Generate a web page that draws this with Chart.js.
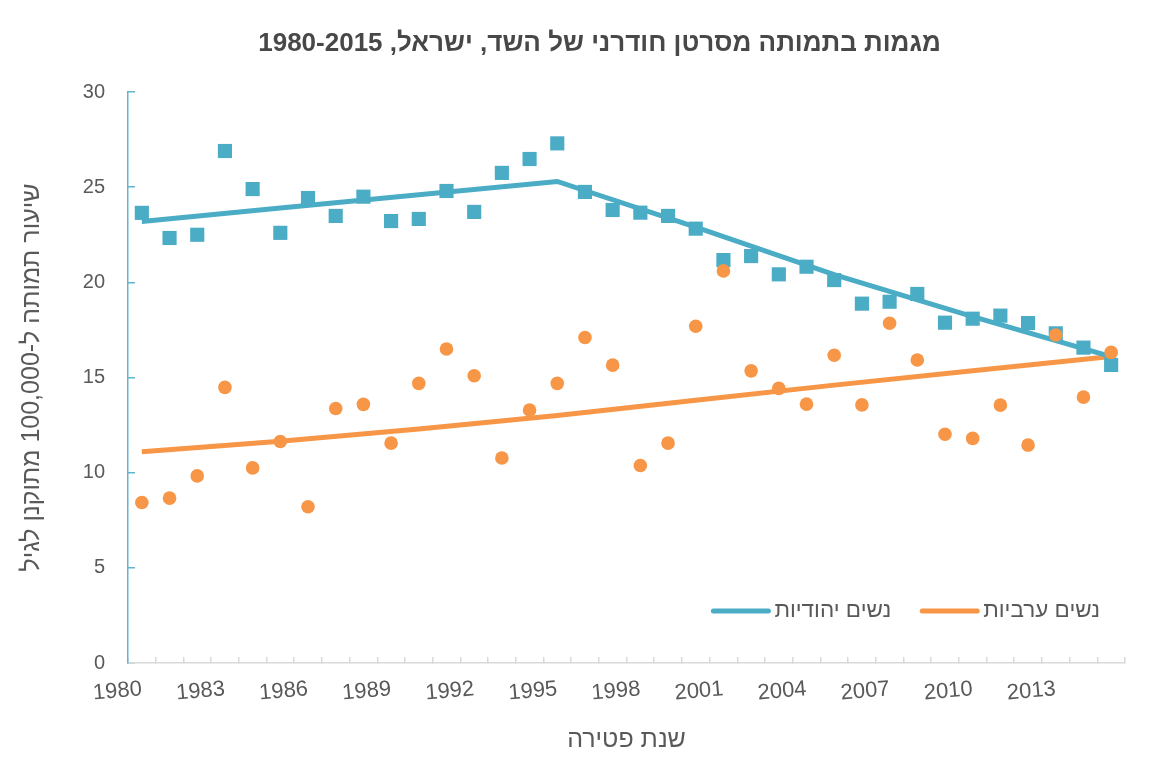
<!DOCTYPE html>
<html lang="he">
<head>
<meta charset="utf-8">
<script src="https://cdn.jsdelivr.net/npm/chart.js@4.4.1/dist/chart.umd.min.js"></script>
<style>
  html, body { margin: 0; padding: 0; background: #fff; }
</style>
</head>
<body>
<canvas id="chart" dir="rtl" width="1158" height="760"></canvas>
<script>
// data
const years = [
  "1980", "1981", "1982", "1983", "1984", "1985", "1986", "1987", "1988", "1989",
  "1990", "1991", "1992", "1993", "1994", "1995", "1996", "1997", "1998", "1999",
  "2000", "2001", "2002", "2003", "2004", "2005", "2006", "2007", "2008", "2009",
  "2010", "2011", "2012", "2013", "2014", "2015",
];
const xTickLabels = ["1980", "1983", "1986", "1989", "1992", "1995", "1998", "2001", "2004", "2007", "2010", "2013"];

const jewishRate = [
  23.65, 22.33, 22.5, 26.9, 24.9, 22.6, 24.43, 23.49, 24.5, 23.22,
  23.33, 24.8, 23.7, 25.75, 26.48, 27.3, 24.75, 23.8, 23.66, 23.49,
  22.82, 21.17, 21.38, 20.42, 20.82, 20.12, 18.88, 18.98, 19.39, 17.88,
  18.09, 18.25, 17.86, 17.32, 16.57, 15.66,
];
const arabRate = [
  8.43, 8.66, 9.83, 14.48, 10.25, 11.64, 8.21, 13.37, 13.59, 11.55,
  14.69, 16.5, 15.09, 10.77, 13.29, 14.69, 17.1, 15.65, 10.38, 11.55,
  17.69, 20.6, 15.35, 14.43, 13.6, 16.17, 13.56, 17.85, 15.92, 12.02,
  11.8, 13.55, 11.45, 17.23, 13.97, 16.32,
];

// joinpoint trend lines, read at every fifth year
const jewishTrend = [
  23.2, null, null, null, null, 23.9, null, null, null, null,
  24.6, null, null, null, null, 25.3, null, null, null, null,
  22.9, null, null, null, null, 20.4, null, null, null, null,
  18.2, null, null, null, null, 16.1,
];
const arabTrend = [
  11.1, null, null, null, null, 11.65, null, null, null, null,
  12.3, null, null, null, null, 13.0, null, null, null, null,
  13.8, null, null, null, null, 14.6, null, null, null, null,
  15.35, null, null, null, null, 16.1,
];

const seriesNames = ["נשים יהודיות", "נשים ערביות"];
const chartTitle = "מגמות בתמותה מסרטן חודרני של השד, ישראל, 1980-2015";

const BLUE = "#4BACC6";
const ORANGE = "#F79646";
const TEXT = "#595959";
const FONT = '"Liberation Sans", Arial, sans-serif';

Chart.defaults.font.family = FONT;

// title is a little right of centre in the original, so draw it by hand
const offsetTitle = {
  id: "offsetTitle",
  afterDraw(chart) {
    const ctx = chart.ctx;
    const area = chart.chartArea;
    ctx.save();
    ctx.font = "bold 26px " + FONT;
    ctx.fillStyle = "#484848";
    ctx.textAlign = "center";
    ctx.textBaseline = "middle";
    ctx.fillText(chartTitle, (area.left + area.right) / 2 - 27, 44);
    ctx.restore();
  },
};

// legend sits inside the plot, bottom right, like the Excel original
const insideLegend = {
  id: "insideLegend",
  afterDraw(chart) {
    const ctx = chart.ctx;
    const area = chart.chartArea;
    const colors = [BLUE, ORANGE];
    ctx.save();
    ctx.font = "22.5px " + FONT;
    ctx.fillStyle = TEXT;
    ctx.textAlign = "right";
    ctx.textBaseline = "middle";
    ctx.lineCap = "round";
    ctx.lineWidth = 5;
    const y = area.bottom - 52;
    let x = area.right - 25;
    for (let i = seriesNames.length - 1; i >= 0; i--) {
      const w = ctx.measureText(seriesNames[i]).width;
      ctx.fillText(seriesNames[i], x, y);
      const lineEnd = x - w - 6;
      ctx.strokeStyle = colors[i];
      ctx.beginPath();
      ctx.moveTo(lineEnd - 55, y);
      ctx.lineTo(lineEnd, y);
      ctx.stroke();
      x = lineEnd - 55 - 31;
    }
    ctx.restore();
  },
};

const ctx = document.getElementById("chart").getContext("2d");
new Chart(ctx, {
  type: "line",
  data: {
    labels: years,
    datasets: [
      {
        label: seriesNames[1],
        data: arabRate,
        showLine: false,
        pointStyle: "circle",
        pointRadius: 6.8,
        pointBorderWidth: 0,
        backgroundColor: ORANGE,
        borderColor: ORANGE,
        order: 0,
      },
      {
        label: seriesNames[0],
        data: jewishRate,
        showLine: false,
        pointStyle: "rect",
        pointRadius: 10,
        pointBorderWidth: 0,
        backgroundColor: BLUE,
        borderColor: BLUE,
        order: 1,
      },
      {
        label: "trend " + seriesNames[0],
        data: jewishTrend,
        spanGaps: true,
        borderColor: BLUE,
        borderWidth: 5,
        pointRadius: 0,
        tension: 0,
        order: 2,
      },
      {
        label: "trend " + seriesNames[1],
        data: arabTrend,
        spanGaps: true,
        borderColor: ORANGE,
        borderWidth: 5,
        pointRadius: 0,
        tension: 0,
        order: 3,
      },
    ],
  },
  options: {
    responsive: false,
    animation: false,
    events: [],
    layout: { padding: { left: 10, right: 33, top: 92, bottom: 0 } },
    plugins: {
      legend: { display: false },
      tooltip: { enabled: false },
      title: { display: false },
    },
    scales: {
      x: {
        type: "category",
        offset: true,
        border: { display: true, color: "#D9D9D9", width: 1.5 },
        grid: {
          display: true,
          offset: true,
          drawOnChartArea: false,
          drawTicks: true,
          tickLength: -6,
          color: "#D9D9D9",
          lineWidth: 1.5,
        },
        ticks: {
          autoSkip: false,
          minRotation: 5,
          maxRotation: 5,
          padding: 19,
          color: TEXT,
          font: { size: 22 },
          callback: function (value) {
            const label = this.getLabelForValue(value);
            return xTickLabels.includes(label) ? label : "";
          },
        },
        title: {
          display: true,
          text: "שנת פטירה",
          color: TEXT,
          font: { size: 25 },
          padding: { top: 5, bottom: 5 },
        },
        afterFit(scale) {
          scale.height = 97;
        },
      },
      y: {
        min: 0,
        max: 30,
        border: { display: true, color: "#62B5D1", width: 1.5 },
        grid: {
          drawOnChartArea: false,
          drawTicks: true,
          tickLength: -7,
          color: "#62B5D1",
          lineWidth: 1.5,
        },
        ticks: {
          stepSize: 5,
          padding: 30,
          color: TEXT,
          font: { size: 20 },
        },
        title: {
          display: true,
          text: "שיעור תמותה ל-100,000 מתוקנן לגיל",
          color: TEXT,
          font: { size: 25 },
          padding: { top: 7, bottom: 0 },
        },
        afterFit(scale) {
          scale.width = 118;
        },
      },
    },
  },
  plugins: [offsetTitle, insideLegend],
});
</script>
</body>
</html>
